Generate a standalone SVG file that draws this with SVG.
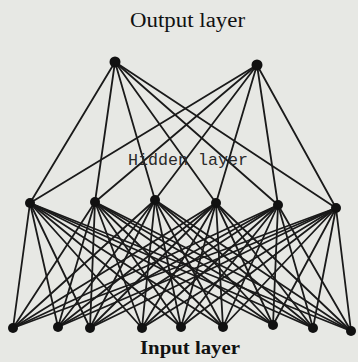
<svg xmlns="http://www.w3.org/2000/svg" width="358" height="362" viewBox="0 0 358 362">
<style>
.bg{fill:#e7e8e4}
.c line{stroke:#1a1a1a;stroke-width:1.8;stroke-linecap:round}
.n{fill:#111}
.t{fill:#111;text-anchor:middle}
</style>
<rect class="bg" x="0" y="0" width="358" height="362"/>
<g id="connectors" class="c">
<line x1="115" y1="62" x2="30" y2="203"/><line x1="115" y1="62" x2="95" y2="202"/><line x1="115" y1="62" x2="155" y2="200"/><line x1="115" y1="62" x2="216" y2="203"/><line x1="115" y1="62" x2="278" y2="205"/><line x1="115" y1="62" x2="336" y2="208"/>
<line x1="257" y1="65" x2="30" y2="203"/><line x1="257" y1="65" x2="95" y2="202"/><line x1="257" y1="65" x2="155" y2="200"/><line x1="257" y1="65" x2="216" y2="203"/><line x1="257" y1="65" x2="278" y2="205"/><line x1="257" y1="65" x2="336" y2="208"/>
<line x1="30" y1="203" x2="13" y2="328"/><line x1="30" y1="203" x2="58" y2="327"/><line x1="30" y1="203" x2="90" y2="328"/><line x1="30" y1="203" x2="142" y2="328"/><line x1="30" y1="203" x2="181" y2="327"/><line x1="30" y1="203" x2="223" y2="327"/><line x1="30" y1="203" x2="273" y2="325"/><line x1="30" y1="203" x2="313" y2="328"/><line x1="30" y1="203" x2="351" y2="331"/>
<line x1="95" y1="202" x2="13" y2="328"/><line x1="95" y1="202" x2="58" y2="327"/><line x1="95" y1="202" x2="90" y2="328"/><line x1="95" y1="202" x2="142" y2="328"/><line x1="95" y1="202" x2="181" y2="327"/><line x1="95" y1="202" x2="223" y2="327"/><line x1="95" y1="202" x2="273" y2="325"/><line x1="95" y1="202" x2="313" y2="328"/><line x1="95" y1="202" x2="351" y2="331"/>
<line x1="155" y1="200" x2="13" y2="328"/><line x1="155" y1="200" x2="58" y2="327"/><line x1="155" y1="200" x2="90" y2="328"/><line x1="155" y1="200" x2="142" y2="328"/><line x1="155" y1="200" x2="181" y2="327"/><line x1="155" y1="200" x2="223" y2="327"/><line x1="155" y1="200" x2="273" y2="325"/><line x1="155" y1="200" x2="313" y2="328"/><line x1="155" y1="200" x2="351" y2="331"/>
<line x1="216" y1="203" x2="13" y2="328"/><line x1="216" y1="203" x2="58" y2="327"/><line x1="216" y1="203" x2="90" y2="328"/><line x1="216" y1="203" x2="142" y2="328"/><line x1="216" y1="203" x2="181" y2="327"/><line x1="216" y1="203" x2="223" y2="327"/><line x1="216" y1="203" x2="273" y2="325"/><line x1="216" y1="203" x2="313" y2="328"/><line x1="216" y1="203" x2="351" y2="331"/>
<line x1="278" y1="205" x2="13" y2="328"/><line x1="278" y1="205" x2="58" y2="327"/><line x1="278" y1="205" x2="90" y2="328"/><line x1="278" y1="205" x2="142" y2="328"/><line x1="278" y1="205" x2="181" y2="327"/><line x1="278" y1="205" x2="223" y2="327"/><line x1="278" y1="205" x2="273" y2="325"/><line x1="278" y1="205" x2="313" y2="328"/><line x1="278" y1="205" x2="351" y2="331"/>
<line x1="336" y1="208" x2="13" y2="328"/><line x1="336" y1="208" x2="58" y2="327"/><line x1="336" y1="208" x2="90" y2="328"/><line x1="336" y1="208" x2="142" y2="328"/><line x1="336" y1="208" x2="181" y2="327"/><line x1="336" y1="208" x2="223" y2="327"/><line x1="336" y1="208" x2="273" y2="325"/><line x1="336" y1="208" x2="313" y2="328"/><line x1="336" y1="208" x2="351" y2="331"/>
</g>
<g id="out1"><circle class="n" cx="115" cy="62" r="5.5"/></g>
<g id="out2"><circle class="n" cx="257" cy="65" r="5.5"/></g>
<g id="hid1"><circle class="n" cx="30" cy="203" r="5"/></g>
<g id="hid2"><circle class="n" cx="95" cy="202" r="5"/></g>
<g id="hid3"><circle class="n" cx="155" cy="200" r="5"/></g>
<g id="hid4"><circle class="n" cx="216" cy="203" r="5"/></g>
<g id="hid5"><circle class="n" cx="278" cy="205" r="5"/></g>
<g id="hid6"><circle class="n" cx="336" cy="208" r="5"/></g>
<g id="in1"><circle class="n" cx="13" cy="328" r="5"/></g>
<g id="in2"><circle class="n" cx="58" cy="327" r="5"/></g>
<g id="in3"><circle class="n" cx="90" cy="328" r="5"/></g>
<g id="in4"><circle class="n" cx="142" cy="328" r="5"/></g>
<g id="in5"><circle class="n" cx="181" cy="327" r="5"/></g>
<g id="in6"><circle class="n" cx="223" cy="327" r="5"/></g>
<g id="in7"><circle class="n" cx="273" cy="325" r="5"/></g>
<g id="in8"><circle class="n" cx="313" cy="328" r="5"/></g>
<g id="in9"><circle class="n" cx="351" cy="331" r="5"/></g>
<g id="labels">
<text class="t" x="187.5" y="27" font-family="'Liberation Serif', serif" font-size="20" textLength="115" lengthAdjust="spacingAndGlyphs">Output layer</text>
<text class="t" x="188" y="165" font-family="'Liberation Mono', monospace" font-size="17" style="fill:#2a2a2a" textLength="120" lengthAdjust="spacingAndGlyphs">Hidden layer</text>
<text class="t" x="190" y="354" font-family="'Liberation Serif', serif" font-size="19" font-weight="bold" textLength="100" lengthAdjust="spacingAndGlyphs">Input layer</text>
</g>
</svg>
